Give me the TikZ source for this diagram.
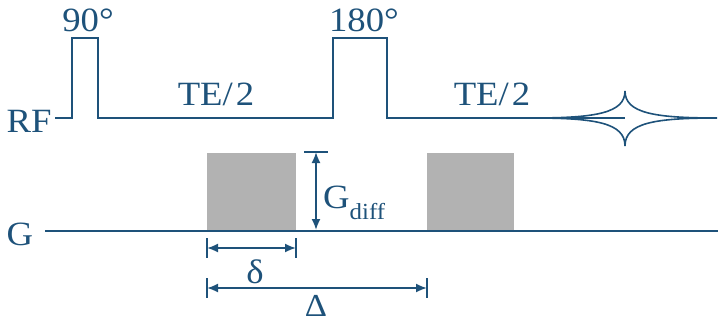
\documentclass[tikz,border=0pt]{standalone}
\usepackage{fontspec}
\setmainfont{Liberation Serif}[FakeStretch=1.08]
\usetikzlibrary{arrows.meta}
\definecolor{seqblue}{RGB}{30,82,122}
\definecolor{gradgray}{RGB}{178,178,178}
\begin{document}
\begin{tikzpicture}[x=1pt,y=-1pt,
  wave/.style={draw=seqblue,line width=1.8pt,line join=miter},
  lbl/.style={text=seqblue,inner sep=0pt,font=\fontsize{34}{38}\selectfont},
  gradbox/.style={fill=gradgray,draw=none},
  dim/.style={draw=seqblue,line width=1.8pt,{Latex[length=11pt,width=9pt]}-{Latex[length=11pt,width=9pt]}},
  bar/.style={draw=seqblue,line width=1.8pt}]
\useasboundingbox (0,0) rectangle (718,324);
% labels
\node[lbl] (rf) at (29,121) {RF};
\node[lbl] (g) at (20,234) {G};
\node[lbl] (p90) at (88,20) {90°};
\node[lbl] (p180) at (364,20) {180°};
\node[lbl] (te1) at (216,94) {TE/\kern3pt2};
\node[lbl] (te2) at (492,94) {TE/\kern3pt2};
% RF line
\draw[wave] (55,118) -- (72,118) -- (72,38) -- (98,38) -- (98,118) -- (333,118) -- (333,38) -- (387,38) -- (387,118) -- (625,118);
% echo
\draw[wave,line width=1.6pt] (533,118) .. controls (596,118) and (625,113) .. (625,91)
  .. controls (625,113) and (654,118) .. (717,118)
  .. controls (654,118) and (625,123) .. (625,146)
  .. controls (625,123) and (596,118) .. (533,118);
% gradients
\fill[gradbox] (207,153) rectangle (296,231);
\fill[gradbox] (427,153) rectangle (514,231);
\draw[wave] (45,231) -- (718,231);
% Gdiff
\coordinate (gtop) at (316,152);
\coordinate (gbot) at (316,230);
\draw[bar] (304,152) -- (328,152);
\draw[dim] (gtop) -- (gbot);
\node[lbl,anchor=west] (gd) at (323,203) {G\raisebox{-0.33em}{\fontsize{23}{26}\selectfont diff}};
% delta
\coordinate (d1) at (207,248);
\coordinate (d2) at (296,248);
\draw[bar] (207,238) -- (207,258);
\draw[bar] (296,238) -- (296,258);
\draw[dim] (d1) -- (d2);
\node[lbl] (dl) at (255,272) {δ};
% Delta
\coordinate (D1) at (207,288);
\coordinate (D2) at (427,288);
\draw[bar] (207,278) -- (207,298);
\draw[bar] (427,278) -- (427,298);
\draw[dim] (D1) -- (D2);
\node[lbl,font=\fontsize{32}{36}\selectfont] (Dl) at (316,306) {Δ};
\end{tikzpicture}
\end{document}
